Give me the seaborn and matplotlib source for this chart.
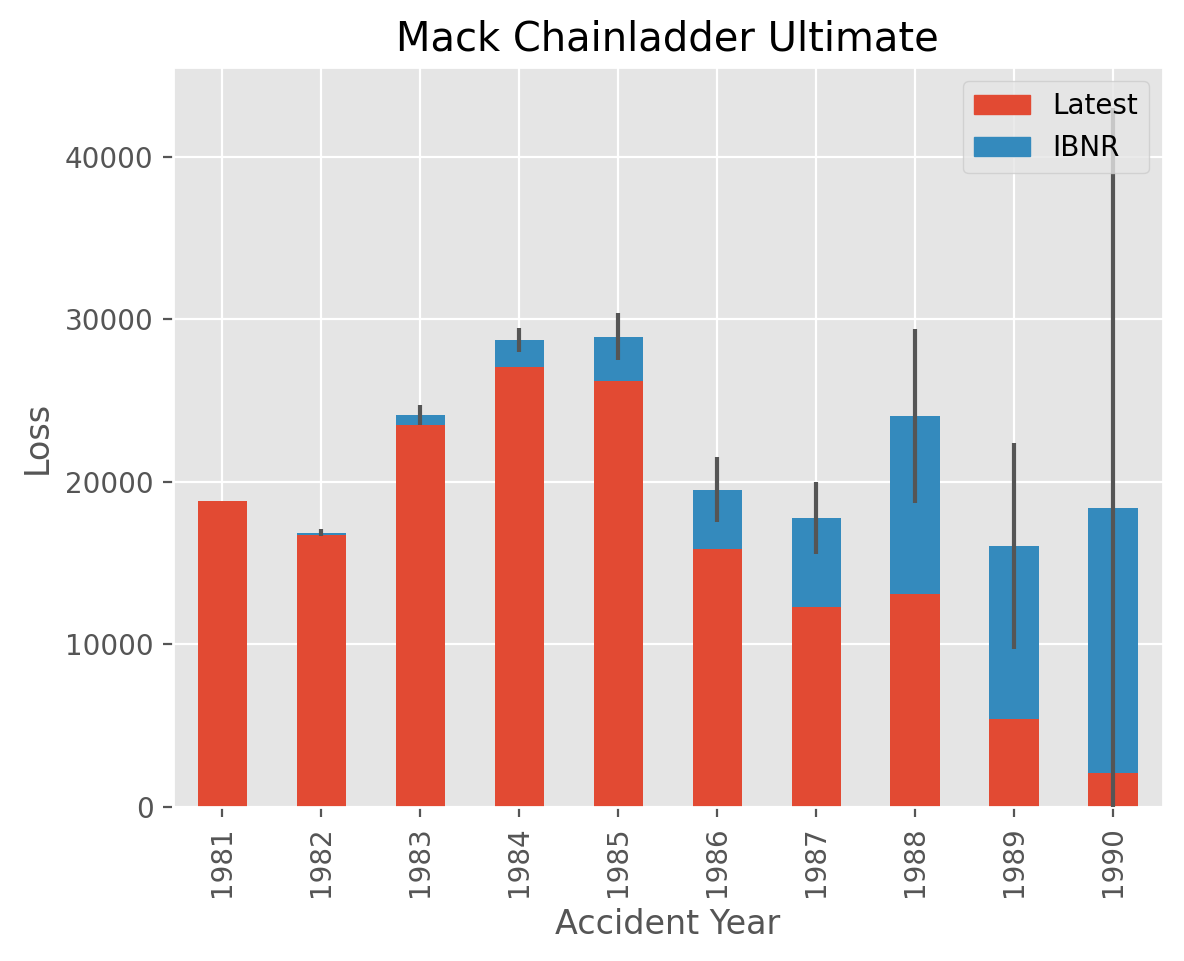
import matplotlib
matplotlib.use("Agg")
import matplotlib.pyplot as plt
import seaborn as sns
import pandas as pd
import numpy as np
from matplotlib.patches import Patch

years = ["1981", "1982", "1983", "1984", "1985", "1986", "1987", "1988", "1989", "1990"]
latest = [18834, 16704, 23466, 27067, 26180, 15852, 12314, 13112, 5395, 2063]
ibnr = [0, 154, 617, 1636, 2747, 3649, 5435, 10907, 10650, 16339]
mack_se = [0, 206, 623, 747, 1469, 2002, 2209, 5358, 6333, 24566]

plt.style.use("ggplot")
red = "#E24A33"
blue = "#348ABD"

df = pd.DataFrame({"year": years, "latest": latest, "ibnr": ibnr, "se": mack_se})
df["ultimate"] = df["latest"] + df["ibnr"]

fig = plt.figure(figsize=(5.92, 4.805), dpi=200)
ax = fig.add_axes([0.146, 0.1605, 0.836, 0.7695])

sns.barplot(data=df, x="year", y="ultimate", color=blue, saturation=1, width=0.5, ax=ax, errorbar=None)
sns.barplot(data=df, x="year", y="latest", color=red, saturation=1, width=0.5, ax=ax, errorbar=None)

xpos = np.arange(len(years))
ax.errorbar(xpos, df["ultimate"], yerr=df["se"], fmt="none", ecolor="#555555", elinewidth=1.5, capsize=0, zorder=3)

ax.set_ylim(0, 45500)
ax.set_xlim(-0.5, len(years) - 0.5)
ax.set_title("Mack Chainladder Ultimate", fontsize=14.4)
ax.set_xlabel("Accident Year", fontsize=12)
ax.set_ylabel("Loss", fontsize=12)
ax.tick_params(axis="x", rotation=90)
ax.xaxis.grid(True, color="white")
ax.yaxis.grid(True, color="white")
ax.set_axisbelow(True)

handles = [Patch(color=red, label="Latest"), Patch(color=blue, label="IBNR")]
ax.legend(handles=handles, loc="upper right")

fig.savefig("out.png", dpi=200)
